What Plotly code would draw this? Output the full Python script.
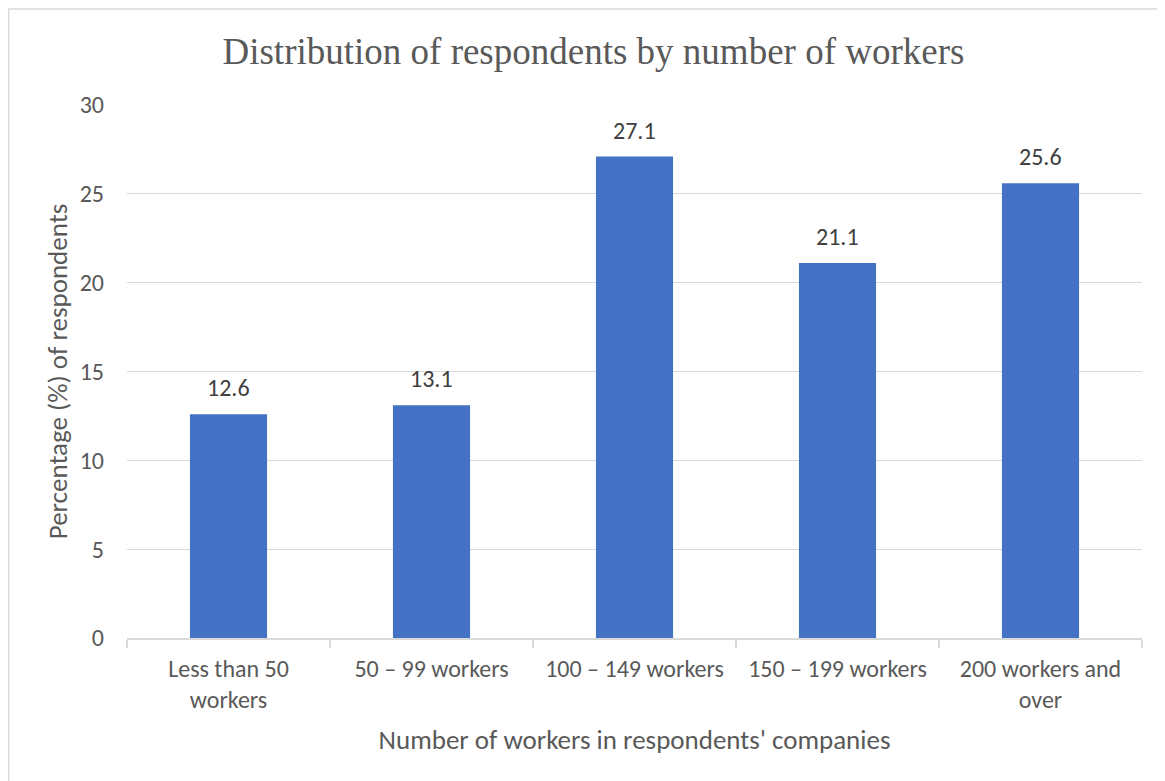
import plotly.graph_objects as go

categories = ["Less than 50<br>workers", "50 – 99 workers", "100 – 149 workers",
              "150 – 199 workers", "200 workers and<br>over"]
values = [12.6, 13.1, 27.1, 21.1, 25.6]
labels = ["12.6", "13.1", "27.1", "21.1", "25.6"]
y_ticks = [0, 5, 10, 15, 20, 25, 30]

SANS = "Carlito, Calibri, sans-serif"
GREY = "#595959"

fig = go.Figure()
fig.add_trace(go.Bar(
    x=categories, y=values,
    marker=dict(color="#4472C4", line=dict(width=0)),
))

for c, v, t in zip(categories, values, labels):
    fig.add_annotation(x=c, y=v, text=t, showarrow=False, yanchor="bottom", yshift=10,
                       font=dict(family=SANS, size=24, color="#404040"))

fig.update_layout(
    width=1157, height=773,
    margin=dict(l=119, r=23, t=97, b=143),
    paper_bgcolor="white", plot_bgcolor="white",
    bargap=0.62,
    showlegend=False,
    title=dict(text="Distribution of respondents by number of workers",
               font=dict(family="'Liberation Serif', 'Times New Roman', serif", size=37, color=GREY),
               x=0.506, xanchor="center", y=0.944, yanchor="middle"),
    xaxis=dict(
        tickson="boundaries", ticks="outside", ticklen=8, tickcolor="#d9d9d9", tickwidth=2,
        showline=True, linecolor="#d9d9d9", linewidth=2,
        tickfont=dict(family=SANS, size=24, color=GREY),
        ticklabelstandoff=8,
        title=dict(text="Number of workers in respondents' companies",
                   font=dict(family=SANS, size=27, color=GREY), standoff=17),
    ),
    yaxis=dict(
        range=[0, 30], tickvals=y_ticks, ticks="",
        showgrid=True, gridcolor="#d9d9d9", gridwidth=1, zeroline=False,
        tickfont=dict(family=SANS, size=24, color=GREY),
        ticklabelstandoff=22,
        title=dict(text="Percentage (%) of respondents",
                   font=dict(family=SANS, size=27, color=GREY), standoff=4),
    ),
    shapes=[dict(type="rect", xref="paper", yref="paper",
                 x0=-0.1167, x1=1.1, y0=-0.5, y1=1.180,
                 line=dict(color="#d9d9d9", width=1.5), layer="below")],
)

fig.write_html("out.html")
